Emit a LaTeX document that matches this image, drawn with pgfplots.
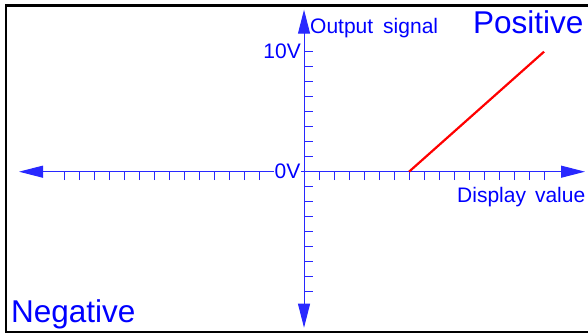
\documentclass[border=0pt]{standalone}
\usepackage{pgfplots}
\pgfplotsset{compat=1.18}
\usepackage{fontspec}
\setmainfont{Liberation Sans}
\usetikzlibrary{arrows.meta}

\definecolor{axblue}{RGB}{0,0,255}
\definecolor{lineblue}{RGB}{40,40,255}

\begin{document}
\begin{tikzpicture}
  \useasboundingbox (0,0) rectangle (588pt,334pt);

  % frame (right side is cut off in the original)
  \draw[line width=2.5pt] (592pt,328.7pt) -- (6pt,328.7pt) -- (6pt,2pt) -- (592pt,2pt);

  \begin{axis}[
    at={(19pt,6.3pt)}, anchor=south west,
    scale only axis, width=566pt, height=318pt,
    xmin=-19, xmax=18.73,
    ymin=-13, ymax=13.5,
    axis lines=middle,
    x axis line style={lineblue, line width=1pt,
      {Triangle[length=24pt,width=12pt]}-{Triangle[length=24pt,width=12pt]}},
    y axis line style={lineblue, line width=1pt,
      {Triangle[length=24pt,width=12pt]}-{Triangle[length=24pt,width=12pt]}},
    xtick={-16,...,16},
    ytick={-10,-8.75,...,10},
    xticklabels={}, yticklabels={},
    xtick align=outside,
    ytick align=inside,
    major tick length=8.5pt,
    tick style={lineblue, line width=1pt},
    clip=false,
  ]
  \addplot[color=red, line width=2.2pt] coordinates {
    (7,0)
    (16,10)
  };
  \end{axis}

  % tick labels on the vertical axis
  \node[axblue, anchor=base east, inner sep=0pt, font=\fontsize{21}{25}\selectfont]
    at (301pt,275.7pt) {10V};
  \node[axblue, fill=white, anchor=base east, inner xsep=1pt, inner ysep=2pt,
    font=\fontsize{21}{25}\selectfont] at (301.5pt,155.7pt) {0V};

  % axis names
  \node[axblue, anchor=base west, inner sep=0pt, font=\fontsize{21}{25}\selectfont]
    at (310pt,300.7pt) {Output\hspace{10pt}signal};
  \node[axblue, anchor=base west, inner sep=0pt, font=\fontsize{21}{25}\selectfont]
    at (457pt,131.3pt) {Display\hspace{9pt}value};

  % quadrant captions
  \node[axblue, anchor=base west, inner sep=0pt, font=\fontsize{31.5}{38}\selectfont]
    at (473pt,300.7pt) {Positive};
  \node[axblue, anchor=base west, inner sep=0pt, font=\fontsize{31.5}{38}\selectfont]
    at (11pt,11pt) {Negative};
\end{tikzpicture}
\end{document}
